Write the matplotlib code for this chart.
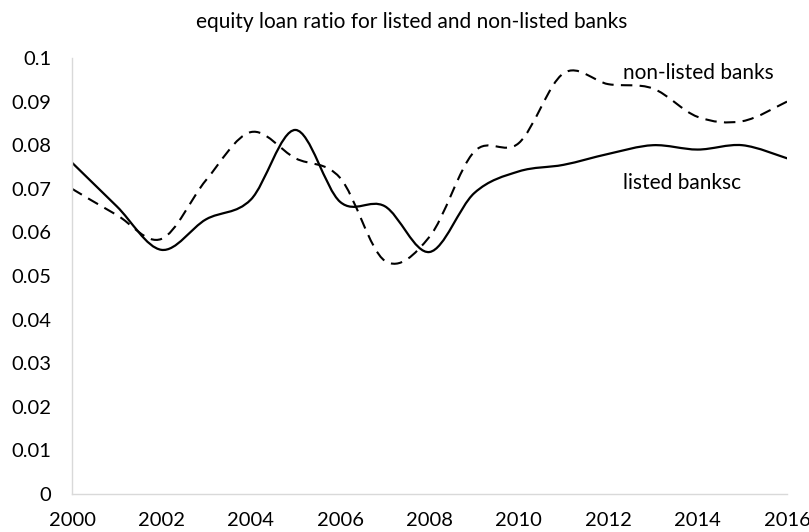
import numpy as np
import matplotlib
matplotlib.use("Agg")
import matplotlib.pyplot as plt
from matplotlib.path import Path
from matplotlib.patches import PathPatch

plt.rcParams['font.family'] = ['Lato', 'DejaVu Sans']

years = list(range(2000, 2017))
listed = [0.076, 0.066, 0.056, 0.063, 0.0675, 0.0835, 0.067, 0.066, 0.0555,
          0.069, 0.074, 0.0755, 0.078, 0.080, 0.079, 0.080, 0.077]
non_listed = [0.070, 0.064, 0.0585, 0.072, 0.083, 0.077, 0.0725, 0.0535, 0.059,
              0.0785, 0.0805, 0.0965, 0.094, 0.093, 0.0865, 0.0855, 0.090]

y_ticks = [0, 0.01, 0.02, 0.03, 0.04, 0.05, 0.06, 0.07, 0.08, 0.09, 0.1]
x_ticks = list(range(2000, 2017, 2))


def smooth_path(xs, ys):
    # Excel style smoothed line: cubic bezier with catmull-rom control points
    pts = np.column_stack([xs, ys]).astype(float)
    n = len(pts)
    verts = [pts[0]]
    codes = [Path.MOVETO]
    for i in range(n - 1):
        p0 = pts[i - 1] if i > 0 else pts[i]
        p1 = pts[i]
        p2 = pts[i + 1]
        p3 = pts[i + 2] if i + 2 < n else pts[i + 1]
        c1 = p1 + (p2 - p0) / 6.0
        c2 = p2 - (p3 - p1) / 6.0
        verts += [c1, c2, p2]
        codes += [Path.CURVE4] * 3
    return Path(verts, codes)


fig = plt.figure(figsize=(8.09, 5.32), dpi=100)
ax = fig.add_axes([72 / 809, 1 - 494 / 532, (787 - 72) / 809, (494 - 58) / 532])

ax.add_patch(PathPatch(smooth_path(years, listed), fill=False, edgecolor='black',
                       linewidth=1.6, capstyle='round'))
ax.add_patch(PathPatch(smooth_path(years, non_listed), fill=False, edgecolor='black',
                       linewidth=1.5, linestyle=(0, (5.5, 3.5))))

ax.set_xlim(2000, 2016)
ax.set_ylim(0, 0.1)
ax.set_xticks(x_ticks)
ax.set_yticks(y_ticks)
ax.set_yticklabels([f"{v:g}" for v in y_ticks])
ax.tick_params(axis='both', length=0, labelsize=14.5)
ax.tick_params(axis='y', pad=15)
ax.tick_params(axis='x', pad=13)

for s in ['top', 'right']:
    ax.spines[s].set_visible(False)
for s in ['left', 'bottom']:
    ax.spines[s].set_color('#d9d9d9')
    ax.spines[s].set_linewidth(1.0)

ax.text(2012.33, 0.0966, "non-listed banks", fontsize=15, ha='left', va='center')
ax.text(2012.33, 0.0713, "listed banksc", fontsize=15, ha='left', va='center')

fig.text(412 / 809, 1 - 22 / 532, "equity loan ratio for listed and non-listed banks",
         fontsize=15, ha='center', va='center')

fig.savefig("out.png", dpi=100)
